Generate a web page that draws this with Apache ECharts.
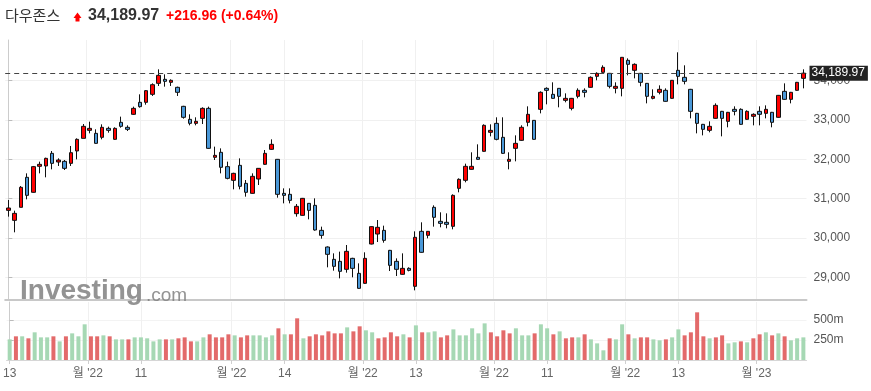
<!DOCTYPE html>
<html>
<head>
<meta charset="utf-8">
<script src="https://cdn.jsdelivr.net/npm/echarts@6/dist/echarts.min.js"></script>
<style>
html,body{margin:0;padding:0;background:#fff}
#chart{width:871px;height:391px}
</style>
</head>
<body>
<div id="chart"></div>
<script>
// 다우존스 일봉 2022-07-13 ~ 2023-01-12
const dates = [
  '07-13','07-14','07-15','07-18','07-19','07-20','07-21','07-22','07-25','07-26','07-27','07-28','07-29',
  '08-01','08-02','08-03','08-04','08-05','08-08','08-09','08-10','08-11','08-12','08-15','08-16','08-17','08-18','08-19','08-22','08-23','08-24','08-25','08-26','08-29','08-30','08-31',
  '09-01','09-02','09-06','09-07','09-08','09-09','09-12','09-13','09-14','09-15','09-16','09-19','09-20','09-21','09-22','09-23','09-26','09-27','09-28','09-29','09-30',
  '10-03','10-04','10-05','10-06','10-07','10-10','10-11','10-12','10-13','10-14','10-17','10-18','10-19','10-20','10-21','10-24','10-25','10-26','10-27','10-28','10-31',
  '11-01','11-02','11-03','11-04','11-07','11-08','11-09','11-10','11-11','11-14','11-15','11-16','11-17','11-18','11-21','11-22','11-23','11-25','11-28','11-29','11-30',
  '12-01','12-02','12-05','12-06','12-07','12-08','12-09','12-12','12-13','12-14','12-15','12-16','12-19','12-20','12-21','12-22','12-23','12-27','12-28','12-29','12-30',
  '01-03','01-04','01-05','01-06','01-09','01-10','01-11','01-12'
];
const opens = [
  30705,30451,30782,31544,31163,31823,31832,32153,31933,31950,31899,32213,32534,
  32737,32661,32560,32788,32509,32941,32814,33144,33449,33449,33652,33931,34033,33957,33830,33347,33017,32915,33042,33296,32052,32179,31815,
  31467,31848,31391,31137,31501,31874,32255,32001,31137,31112,30621,30578,30883,30832,30197,29774,29461,29410,29207,29486,29105,
  28851,29850,30104,30197,29689,29410,29080,29232,28775,30172,30070,30782,30426,30401,30299,31264,31468,31747,32052,32204,32687,
  32915,32560,31950,32280,32483,32941,32991,33271,33804,33652,33804,33499,33296,33601,33754,33830,34109,34211,34185,33804,33804,
  34516,34262,34185,33931,33550,33703,33754,33550,34262,34084,33779,33169,32890,32737,33042,33220,32966,33271,33271,33017,33093,
  33220,33169,33195,33068,33728,33525,33754,34058
];
const closes = [
  30765,30629,31290,31086,31815,31874,32026,31899,31984,31772,32170,32509,32839,
  32788,32407,32814,32737,32788,32839,32763,33296,33339,33745,33897,34135,33982,34008,33703,33068,32915,32966,33296,32280,32102,31798,31518,
  31645,31315,31163,31569,31772,32153,32382,31112,31086,30959,30807,31010,30705,30206,30070,29588,29283,29156,29664,29232,28724,
  29486,30291,30274,29943,29308,29207,29232,29181,30020,29639,30172,30528,30375,30350,31086,31493,31823,31823,32001,32865,32737,
  32509,32153,32001,32407,32814,33144,32509,33703,33754,33550,33601,33550,33550,33754,33703,34084,34185,34338,33855,33855,34592,
  34414,34414,33957,33601,33601,33779,33474,34008,34109,33982,33220,32915,32763,32839,33372,33042,33195,33220,32890,33220,33144,
  33144,33271,32941,33626,33525,33703,33957,34189.97
];
const lows = [
  30545,30147,30782,30985,31154,31645,31544,31747,31832,31730,31832,32001,32534,
  32661,32400,32509,32678,32495,32805,32720,33130,33313,33389,33610,33864,33847,33864,33610,33034,32865,32865,32898,32270,31984,31645,31493,
  31239,31239,31053,31130,31349,31860,32245,31027,30883,30883,30545,30570,30477,30190,29986,29258,29173,28978,29122,29004,28715,
  28840,29840,29901,29884,29164,29037,29070,29156,28673,29630,29994,30291,30274,30248,30223,31163,31417,31740,31990,32195,32585,
  32484,32140,31747,31950,32470,32839,32500,33169,33398,33540,33322,33449,33245,33550,33576,33820,34008,34200,33804,33677,33601,
  34135,34058,33855,33423,33525,33652,33465,33540,33906,33906,33042,32661,32610,32687,33030,32585,32814,33118,32880,33005,32864,
  32864,33042,32814,33058,33515,33423,33744,33804
];
const highs = [
  30968,30697,31323,31645,31832,31942,32043,32212,32026,31984,32340,32534,32898,
  32958,32763,32890,32831,32814,33085,32864,33339,33652,33762,33931,34287,34160,34033,33847,33360,33144,33068,33322,33339,32323,32280,31942,
  31660,32026,31476,31645,31780,32238,32509,32010,31264,31264,30866,31020,30890,31010,30291,29790,29613,29656,29825,29500,29359,
  29639,30300,30460,30316,29700,29486,29613,29258,30172,30401,30180,30832,30655,30629,31112,31518,31891,32179,32382,32890,32890,
  33068,33068,32179,32610,32865,33347,33000,33728,33830,33957,33810,33677,33560,33804,33804,34109,34211,34389,34195,33957,34600,
  34566,34439,34195,33940,33779,33880,33804,34015,34719,34389,33790,33180,32900,32966,33423,33230,33205,33347,33296,33246,33169,
  33347,33372,33205,33636,33931,33713,33967,34287
];
// 거래량 (백만)
const volumes = [
  258,296,296,271,346,283,283,296,233,296,333,296,446,296,296,308,296,258,258,258,283,283,271,233,258,258,258,271,283,233,233,283,321,283,283,321,308,283,308,308,308,283,308,396,
  321,321,521,271,296,321,308,358,333,333,408,358,421,371,346,271,283,346,296,321,283,433,346,346,358,283,308,383,308,308,396,333,458,346,296,371,333,396,308,308,333,446,396,
  321,358,271,283,283,321,258,208,121,271,258,446,321,271,283,283,258,246,258,283,383,308,346,596,296,271,283,308,208,221,233,221,271,321,346,308,333,296,246,271,283
];
const volUp = [
  0,1,0,1,0,0,0,1,0,1,0,0,0,1,1,0,1,0,0,1,0,0,0,0,0,1,0,1,1,1,0,0,1,1,1,1,0,1,1,0,0,0,0,1,
  0,1,1,0,1,1,1,1,1,1,0,1,1,0,0,1,1,1,1,0,1,0,1,0,0,1,1,0,0,0,0,0,0,1,1,1,1,0,0,0,1,0,0,
  1,0,1,1,0,1,0,0,0,1,0,0,1,0,1,1,0,0,1,0,0,1,1,1,1,0,1,1,0,0,1,0,1,1,0,1,0,1,0,0,0
];
const tickPos = [0, 12.5, 21, 35.5, 44, 56.5, 65, 77.5, 86, 98.5, 107, 119.5];
const tickText = ['13', "월 '22", '11', "월 '22", '14', "월 '22", '13', "월 '22", '11', "월 '22", '13', "월 '23"];
const priceTicks = [29000, 30000, 31000, 32000, 33000, 34000];
const volTicks = [250, 500];
const lastClose = 34189.97;

const chart = echarts.init(document.getElementById('chart'), null, {renderer: 'canvas'});

const UP = '#ff0000', DOWN = '#4a98d8';
const FONT = 'Arial, "Liberation Sans", sans-serif';
const gridL = 5.2, gridR = 64.5;

const candleData = dates.map((d, i) => [opens[i], closes[i], lows[i], highs[i]]);
const volData = volumes.map((v, i) => ({
  value: v,
  itemStyle: {color: volUp[i] ? '#e36a6a' : '#a6d8b4'}
}));

const fmtTick = v => {
  const k = tickPos.indexOf(v);
  return k >= 0 ? tickText[k] : '';
};

const option = {
  animation: false,
  backgroundColor: '#fff',
  grid: [
    {left: gridL, right: gridR, top: 40, height: 260},
    {left: gridL, right: gridR, top: 302, height: 58}
  ],
  xAxis: [
    {
      type: 'category', gridIndex: 0, data: dates, boundaryGap: true,
      axisLine: {show: true, onZero: false, lineStyle: {color: '#c8c8c8', width: 2}},
      axisTick: {show: false}, axisLabel: {show: false}, splitLine: {show: false}
    },
    {
      type: 'category', gridIndex: 1, data: dates, boundaryGap: true, show: false
    },
    {
      type: 'value', gridIndex: 0, min: -0.5, max: 127.5, position: 'bottom',
      axisLine: {show: false}, axisLabel: {show: false, customValues: tickPos},
      axisTick: {show: false, customValues: tickPos},
      splitLine: {show: true, lineStyle: {color: '#f0f0f0'}}
    },
    {
      type: 'value', gridIndex: 1, min: -0.5, max: 127.5, position: 'bottom',
      axisLine: {show: true, onZero: false, lineStyle: {color: '#d6d6d6'}},
      axisTick: {show: true, length: 4, customValues: tickPos, lineStyle: {color: '#cfcfcf'}},
      axisLabel: {
        customValues: tickPos, formatter: fmtTick, color: '#666',
        fontSize: 12, fontFamily: 'Arial, "Noto Sans CJK KR", sans-serif', margin: 8
      },
      splitLine: {show: true, lineStyle: {color: '#f0f0f0'}}
    }
  ],
  yAxis: [
    {
      type: 'value', gridIndex: 0, position: 'right', min: 28428, max: 35032, scale: true,
      axisLine: {show: true, lineStyle: {color: '#cccccc'}},
      axisTick: {show: true, length: 4, customValues: priceTicks, lineStyle: {color: '#bbbbbb'}},
      axisLabel: {
        customValues: priceTicks, color: '#555', fontSize: 12, fontFamily: FONT, margin: 7,
        formatter: v => v.toLocaleString('en-US')
      },
      splitLine: {show: true, lineStyle: {color: '#f0f0f0'}}
    },
    {
      type: 'value', gridIndex: 1, position: 'right', min: 0, max: 725,
      axisLine: {show: true, lineStyle: {color: '#cccccc'}},
      axisTick: {show: true, length: 4, customValues: volTicks, lineStyle: {color: '#bbbbbb'}},
      axisLabel: {
        customValues: volTicks, color: '#555', fontSize: 12, fontFamily: FONT, margin: 7,
        formatter: v => v + 'm'
      },
      splitLine: {show: true, lineStyle: {color: '#f3f3f3'}}
    }
  ],
  series: [
    {
      type: 'candlestick', xAxisIndex: 0, yAxisIndex: 0, data: candleData, barWidth: 4,
      itemStyle: {color: UP, color0: DOWN, borderColor: '#111', borderColor0: '#111', borderWidth: 1},
      markLine: {
        silent: true, symbol: 'none',
        data: [{yAxis: lastClose}],
        lineStyle: {type: [5, 4], color: '#444', width: 1},
        label: {
          position: 'end', distance: 3,
          formatter: () => lastClose.toLocaleString('en-US', {minimumFractionDigits: 2}),
          backgroundColor: '#222', color: '#fff', fontSize: 12, fontFamily: FONT,
          padding: [2, 3, 1, 2], lineHeight: 12
        }
      }
    },
    {
      type: 'bar', xAxisIndex: 1, yAxisIndex: 1, data: volData, barWidth: 4
    }
  ],
  graphic: [
    {
      type: 'text', left: 5, top: 8,
      style: {text: '다우존스', font: '15px "Noto Sans CJK KR", sans-serif', fill: '#333'}
    },
    {
      type: 'polygon',
      shape: {points: [[73.5, 18], [77.5, 12.5], [81.5, 18], [79.5, 18], [79.5, 21.5], [75.5, 21.5], [75.5, 18]]},
      style: {fill: '#ff0000'}
    },
    {
      type: 'text', left: 88, top: 8,
      style: {text: '34,189.97', font: 'bold 16px Arial, sans-serif', fill: '#333'}
    },
    {
      type: 'text', left: 166, top: 9,
      style: {text: '+216.96 (+0.64%)', font: 'bold 14px Arial, sans-serif', fill: '#ff0000'}
    },
    {
      type: 'text', left: 20, top: 277, z: 1,
      style: {text: 'Investing', font: 'bold 28px Arial, sans-serif', fill: 'rgba(128,128,128,0.85)'}
    },
    {
      type: 'text', left: 146, top: 286, z: 1,
      style: {text: '.com', font: '19px Arial, sans-serif', fill: 'rgba(128,128,128,0.85)'}
    }
  ]
};

chart.setOption(option);
</script>
</body>
</html>
